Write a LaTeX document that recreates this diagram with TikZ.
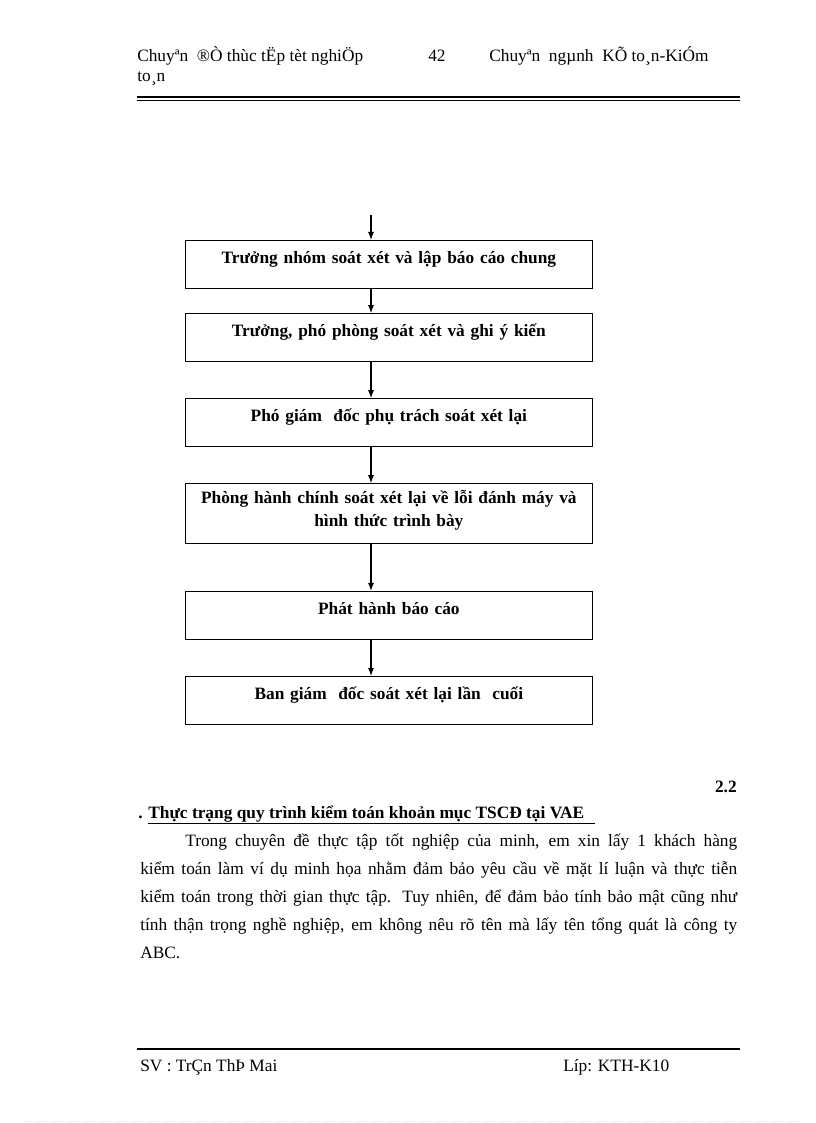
\documentclass[tikz,border=0pt]{standalone}
\usepackage{fontspec}
\setmainfont{Liberation Serif}
\usetikzlibrary{arrows.meta, positioning, calc}
\tikzset{
    box/.style={rectangle, draw, line width=0.8pt, minimum width=305pt, text width=295pt, align=center, inner ysep=0pt, font=\fontsize{13}{17.25}\selectfont\bfseries},
    arrow/.style={line width=0.8pt, -{Latex[length=6pt, width=4.5pt]}}
}

\begin{document}
\begin{tikzpicture}[
    x=0.75pt, y=-0.75pt,
    onebox/.style={box, text height=17.25pt, text depth=18.75pt},
    twobox/.style={box, text height=15pt, text depth=30pt},
    headtext/.style={font=\fontsize{13}{15}\selectfont, inner sep=0pt},
    bodytext/.style={font=\fontsize{13}{21}\selectfont, inner sep=0pt}
]
    \useasboundingbox (0,0) rectangle (816,1123);

    % Page header
    \node (htitle) [headtext, anchor=base west] at (137,62) {Chuyªn\ \ ®Ò thùc tËp tèt nghiÖp};
    \node (htitle2) [headtext, anchor=base west] at (137,82) {to¸n};
    \node (hpage) [headtext, anchor=base west] at (428,62) {42};
    \node (hfield) [headtext, anchor=base west] at (489,62) {Chuyªn\ \ ngµnh\ \ KÕ to¸n-KiÓm};
    \draw [line width=2pt] (137,97) -- (740,97);
    \draw [line width=1pt] (137,100.5) -- (740,100.5);

    % Review steps
    \coordinate (axis) at (371,215);
    \node (lead) [onebox, anchor=north west] at (185,240) {Trưởng nhóm soát xét và lập báo cáo chung};
    \node (deputy) [onebox, below=18pt of lead] {Trưởng, phó phòng soát xét và ghi ý kiến};
    \node (director) [onebox, below=27pt of deputy] {Phó giám\ \ đốc phụ trách soát xét lại};
    \node (admin) [twobox, below=27pt of director] {Phòng hành chính soát xét lại về lỗi đánh máy và\\hình thức trình bày};
    \node (issue) [onebox, below=35pt of admin] {Phát hành báo cáo};
    \node (board) [onebox, below=27pt of issue] {Ban giám\ \ đốc soát xét lại lần\ \ cuối};

    % Arrows down the chain
    \draw [arrow] (axis) -- (axis |- lead.north);
    \draw [arrow] (axis |- lead.south) -- (axis |- deputy.north);
    \draw [arrow] (axis |- deputy.south) -- (axis |- director.north);
    \draw [arrow] (axis |- director.south) -- (axis |- admin.north);
    \draw [arrow] (axis |- admin.south) -- (axis |- issue.north);
    \draw [arrow] (axis |- issue.south) -- (axis |- board.north);

    % Section heading and text
    \node (secnum) [bodytext, anchor=base east] at (737,792) {\bfseries 2.2};
    \node (sectitle) [bodytext, anchor=base west] at (138,818) {\bfseries . \underline{Thực trạng quy trình kiểm toán khoản mục TSCĐ tại VAE\hspace{8pt}}};
    \node (para) [bodytext, anchor=north west, text width=447.75pt, align=justify] at (140,834) {\hspace*{33.75pt}Trong chuyên đề thực tập tốt nghiệp của minh, em xin lấy 1 khách hàng\linebreak
        kiểm toán làm ví dụ minh họa nhằm đảm bảo yêu cầu về mặt lí luận và thực tiễn\linebreak
        kiểm toán trong thời gian thực tập. Tuy nhiên, để đảm bảo tính bảo mật cũng như\linebreak
        tính thận trọng nghề nghiệp, em không nêu rõ tên mà lấy tên tổng quát là công ty\linebreak
        ABC.};

    % Page footer
    \draw [line width=0.8pt] (137,1049) -- (740,1049);
    \node (student) [headtext, anchor=base west] at (140,1071) {SV : TrÇn ThÞ Mai};
    \node (klass) [headtext, anchor=base west] at (563,1071) {Líp: KTH-K10};
    \draw [gray!35, dotted] (25,1121) -- (800,1121);
\end{tikzpicture}
\end{document}
